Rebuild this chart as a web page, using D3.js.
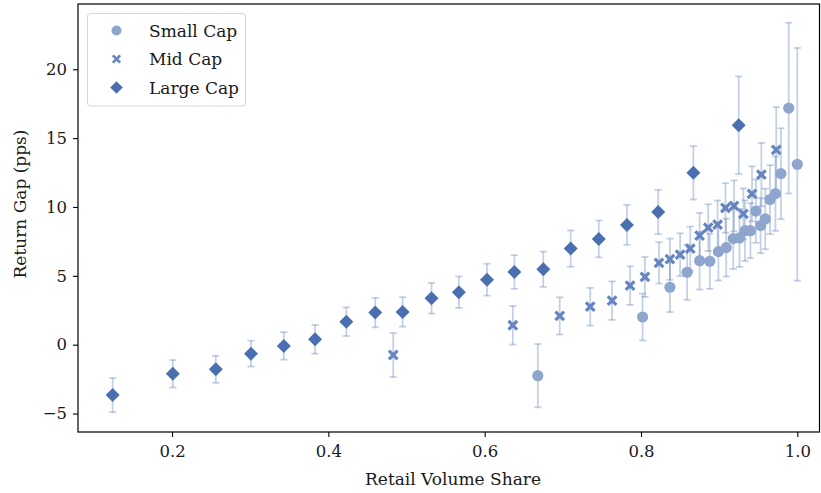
<!DOCTYPE html>
<html>
<head>
<meta charset="utf-8">
<script src="https://cdn.jsdelivr.net/npm/d3@7"></script>
<style>
  html, body { margin: 0; padding: 0; background: #fff; }
  svg { display: block; }
  text { font-family: "DejaVu Serif", "Liberation Serif", serif; fill: #1a1a1a; }
</style>
</head>
<body>
<svg id="chart" width="821" height="493"></svg>
<script>
// ---------------- data ----------------
const seriesNames = ["Small Cap", "Mid Cap", "Large Cap"];

const smallX   = [0.668, 0.802, 0.837, 0.859, 0.875, 0.888, 0.899, 0.909, 0.918, 0.926, 0.933, 0.940, 0.947, 0.953, 0.959, 0.965, 0.972, 0.979, 0.989, 1.000];
const smallY   = [-2.25, 2.01, 4.17, 5.26, 6.10, 6.06, 6.76, 7.05, 7.70, 7.75, 8.28, 8.28, 9.70, 8.65, 9.13, 10.54, 10.97, 12.42, 17.18, 13.10];
const smallErr = [2.3, 1.7, 1.8, 2.0, 2.1, 2.0, 2.1, 2.1, 2.2, 2.1, 2.2, 2.0, 2.3, 2.0, 2.2, 2.5, 2.7, 3.3, 6.2, 8.45];

const midX   = [0.483, 0.636, 0.696, 0.735, 0.763, 0.786, 0.805, 0.823, 0.837, 0.850, 0.863, 0.875, 0.886, 0.898, 0.908, 0.919, 0.931, 0.942, 0.954, 0.973];
const midY   = [-0.75, 1.41, 2.09, 2.76, 3.20, 4.29, 4.92, 5.94, 6.21, 6.54, 6.98, 7.92, 8.50, 8.72, 9.93, 10.08, 9.50, 10.95, 12.35, 14.15];
const midErr = [1.6, 1.4, 1.35, 1.37, 1.4, 1.4, 1.45, 1.5, 1.5, 1.55, 1.6, 1.65, 1.7, 1.75, 1.8, 1.85, 1.85, 2.0, 2.3, 3.1];

const largeX   = [0.124, 0.201, 0.256, 0.301, 0.343, 0.383, 0.423, 0.460, 0.495, 0.532, 0.567, 0.603, 0.638, 0.675, 0.710, 0.746, 0.782, 0.822, 0.867, 0.925];
const largeY   = [-3.66, -2.11, -1.79, -0.65, -0.09, 0.39, 1.67, 2.33, 2.38, 3.37, 3.81, 4.72, 5.28, 5.48, 6.98, 7.68, 8.70, 9.64, 12.48, 15.94];
const largeErr = [1.24, 1.0, 0.98, 0.94, 1.0, 1.04, 1.04, 1.07, 1.07, 1.11, 1.14, 1.16, 1.22, 1.28, 1.32, 1.34, 1.45, 1.6, 1.94, 3.54];

const xTicks = [0.2, 0.4, 0.6, 0.8, 1.0];
const yTicks = [-5, 0, 5, 10, 15, 20];
const xLabel = "Retail Volume Share";
const yLabel = "Return Gap (pps)";

// ---------------- layout ----------------
const W = 821, H = 493;
const m = { left: 78, right: 1, top: 4, bottom: 61 };
const svg = d3.select("#chart");

const x = d3.scaleLinear().domain([0.0797, 1.029]).range([m.left, W - m.right]);
const y = d3.scaleLinear().domain([-6.34, 24.74]).range([H - m.bottom, m.top]);

const colors = { "Small Cap": "#8ea5ce", "Mid Cap": "#6584c0", "Large Cap": "#4a6fb0" };
const errColor = "#4c72b0";

const series = [
  { name: "Small Cap", xs: smallX, ys: smallY, es: smallErr, shape: "circle" },
  { name: "Mid Cap", xs: midX, ys: midY, es: midErr, shape: "x" },
  { name: "Large Cap", xs: largeX, ys: largeY, es: largeErr, shape: "diamond" }
];

// ---------------- axes ----------------
const xAxis = d3.axisBottom(x).tickValues(xTicks).tickFormat(d3.format(".1f")).tickSizeOuter(0).tickSize(5).tickPadding(8);
const yAxis = d3.axisLeft(y).tickValues(yTicks).tickFormat(d => d < 0 ? "\u2212" + Math.abs(d) : d).tickSizeOuter(0).tickSize(5).tickPadding(6);

const gx = svg.append("g").attr("transform", `translate(0,${H - m.bottom})`).call(xAxis);
const gy = svg.append("g").attr("transform", `translate(${m.left},0)`).call(yAxis);
[gx, gy].forEach(g => {
  g.select(".domain").remove();
  g.selectAll(".tick line").attr("stroke", "#000").attr("stroke-width", 1.1);
  g.selectAll(".tick text").attr("font-size", 16.5).attr("fill", "#1a1a1a")
    .attr("font-family", "DejaVu Serif, Liberation Serif, serif");
});

// ---------------- error bars ----------------
const plot = svg.append("g");
series.forEach(s => {
  const g = plot.append("g");
  s.xs.forEach((xv, i) => {
    const cx = x(xv), y1 = y(s.ys[i] + s.es[i]), y0 = y(s.ys[i] - s.es[i]);
    g.append("line").attr("x1", cx).attr("x2", cx).attr("y1", y1).attr("y2", y0)
      .attr("stroke", errColor).attr("stroke-opacity", 0.33).attr("stroke-width", 1.8);
    [y1, y0].forEach(yy => g.append("line").attr("x1", cx - 3.6).attr("x2", cx + 3.6).attr("y1", yy).attr("y2", yy)
      .attr("stroke", errColor).attr("stroke-opacity", 0.33).attr("stroke-width", 1.8));
  });
});

// ---------------- markers ----------------
function drawMarker(g, shape, cx, cy, color, scale = 1) {
  if (shape === "circle") {
    g.append("circle").attr("cx", cx).attr("cy", cy).attr("r", 5.6 * scale).attr("fill", color);
  } else if (shape === "diamond") {
    const r = 7 * scale;
    g.append("path").attr("d", `M${cx},${cy - r}L${cx + r},${cy}L${cx},${cy + r}L${cx - r},${cy}Z`).attr("fill", color);
  } else {
    const r = 4.3 * scale;
    g.append("path").attr("d", `M${cx - r},${cy - r}L${cx + r},${cy + r}M${cx - r},${cy + r}L${cx + r},${cy - r}`)
      .attr("stroke", color).attr("stroke-width", 3.2 * scale).attr("stroke-linecap", "butt").attr("fill", "none");
  }
}
series.forEach(s => {
  const g = plot.append("g");
  s.xs.forEach((xv, i) => drawMarker(g, s.shape, x(xv), y(s.ys[i]), colors[s.name]));
});

// ---------------- frame ----------------
svg.append("rect").attr("x", m.left).attr("y", m.top)
  .attr("width", W - m.left - m.right - 0.5).attr("height", H - m.top - m.bottom)
  .attr("fill", "none").attr("stroke", "#000").attr("stroke-width", 1.2);

// ---------------- labels ----------------
svg.append("text").attr("x", (m.left + W - m.right) / 2 + 4).attr("y", 485)
  .attr("text-anchor", "middle").attr("font-size", 17).text(xLabel);
svg.append("text").attr("transform", `translate(26,${(m.top + H - m.bottom) / 2 - 14}) rotate(-90)`)
  .attr("text-anchor", "middle").attr("font-size", 17).text(yLabel);

// ---------------- legend ----------------
const lg = svg.append("g");
lg.append("rect").attr("x", 87.5).attr("y", 13.5).attr("width", 158).attr("height", 92.5)
  .attr("rx", 3).attr("fill", "#fff").attr("fill-opacity", 0.85).attr("stroke", "#d5d5d5").attr("stroke-width", 1);
const rowsY = [30.5, 59, 87.5];
series.forEach((s, i) => {
  drawMarker(lg, s.shape, 116.5, rowsY[i], colors[s.name], s.shape === "x" ? 0.85 : 0.9);
  lg.append("text").attr("x", 149).attr("y", rowsY[i] + 6).attr("font-size", 17).text(s.name);
});
</script>
</body>
</html>
